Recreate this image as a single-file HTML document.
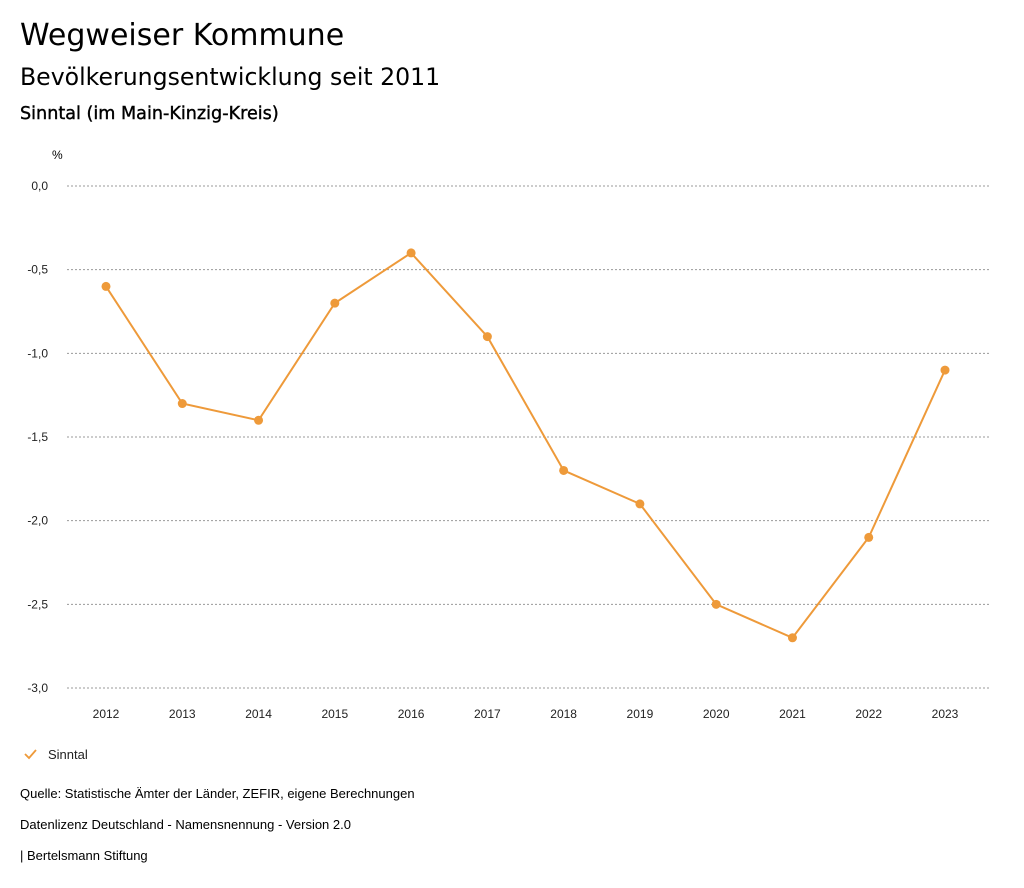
<!DOCTYPE html>
<html><head><meta charset="utf-8"><style>
body{margin:0;width:1024px;height:888px;background:#fff;font-family:"Liberation Sans",sans-serif;color:#000;position:relative;overflow:hidden}
.t{position:absolute;left:20px;white-space:nowrap}
.d{font-family:"DejaVu Sans",sans-serif}
</style></head><body>
<div class="t d" style="top:18px;font-size:30px">Wegweiser Kommune</div>
<div class="t d" style="top:63px;font-size:23.6px">Bevölkerungsentwicklung seit 2011</div>
<div class="t d" style="top:104px;font-size:17.6px;-webkit-text-stroke:0.4px #000">Sinntal (im Main-Kinzig-Kreis)</div>
<svg id="chart" width="1024" height="780" style="position:absolute;left:0;top:0" font-family="Liberation Sans, sans-serif"></svg>
<div class="t" style="top:786px;font-size:13px">Quelle: Statistische Ämter der Länder, ZEFIR, eigene Berechnungen</div>
<div class="t" style="top:817px;font-size:13px">Datenlizenz Deutschland - Namensnennung - Version 2.0</div>
<div class="t" style="top:848px;font-size:13px">| Bertelsmann Stiftung</div>
<script>
const years=[2012,2013,2014,2015,2016,2017,2018,2019,2020,2021,2022,2023];
const values=[-0.6,-1.3,-1.4,-0.7,-0.4,-0.9,-1.7,-1.9,-2.5,-2.7,-2.1,-1.1];
const yTicks=[0,-0.5,-1,-1.5,-2,-2.5,-3];
const yTickLabels=["0,0","-0,5","-1,0","-1,5","-2,0","-2,5","-3,0"];
const color="#ee9a3a";
const svg=document.getElementById('chart');
const NS="http://www.w3.org/2000/svg";
function y(v){return 186+(0-v)/3*502;}
function x(i){return 106+i*(945-106)/(years.length-1);}
function mk(tag,attrs,parent){const e=document.createElementNS(NS,tag);for(const k in attrs)e.setAttribute(k,attrs[k]);(parent||svg).appendChild(e);return e;}
const unit=mk('text',{x:52,y:159,'font-size':12});unit.textContent='%';


yTicks.forEach((v,i)=>{
  const g=mk('line',{x1:67,x2:990,y1:y(v),y2:y(v),stroke:'#999','stroke-dasharray':'2,2','stroke-width':1});
  
  
  const t=mk('text',{x:48,y:y(v)+4,'font-size':12,'text-anchor':'end',fill:'#222'});t.textContent=yTickLabels[i];
  
  
});
years.forEach((yr,i)=>{
  const t=mk('text',{x:x(i),y:718,'font-size':12,'text-anchor':'middle',fill:'#222'});t.textContent=yr;
  
  
});
const line=mk('polyline',{points:values.map((v,i)=>x(i)+','+y(v)).join(' '),fill:'none',stroke:color,'stroke-width':2});


values.forEach((v,i)=>{
  const c=mk('circle',{cx:x(i),cy:y(v),r:4.5,fill:color});
  
  
});
const lg=mk('g',{});


mk('polyline',{points:'25,754 29,758 36,750',fill:'none',stroke:color,'stroke-width':1.8},lg);
const lt=mk('text',{x:48,y:759,'font-size':13,fill:'#222'},lg);lt.textContent='Sinntal';
</script>
</body></html>
